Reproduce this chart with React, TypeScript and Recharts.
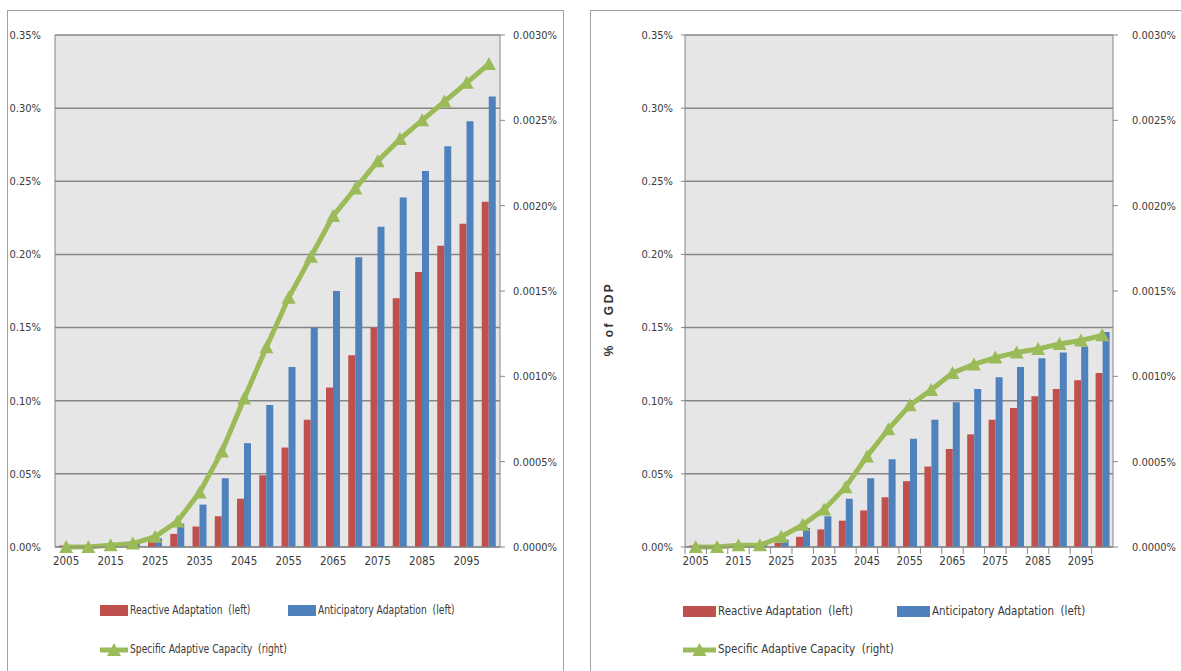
import { ComposedChart, Bar, Line, XAxis, YAxis, CartesianGrid } from "recharts";

const YEARS = [
  2005, 2010, 2015, 2020, 2025, 2030, 2035, 2040, 2045, 2050,
  2055, 2060, 2065, 2070, 2075, 2080, 2085, 2090, 2095, 2100,
];

// left panel, % of GDP
const LEFT_REACTIVE = [
  0.001, 0.001, 0.001, 0.002, 0.004, 0.009, 0.014, 0.021, 0.033, 0.049,
  0.068, 0.087, 0.109, 0.131, 0.15, 0.17, 0.188, 0.206, 0.221, 0.236,
];
const LEFT_ANTICIPATORY = [
  0.001, 0.001, 0.002, 0.003, 0.006, 0.016, 0.029, 0.047, 0.071, 0.097,
  0.123, 0.15, 0.175, 0.198, 0.219, 0.239, 0.257, 0.274, 0.291, 0.308,
];
const LEFT_CAPACITY = [
  0, 0, 0.00001, 0.00002, 0.00006, 0.00015, 0.00032, 0.00056, 0.00087, 0.00117,
  0.00146, 0.0017, 0.00194, 0.0021, 0.00226, 0.00239, 0.0025, 0.00261, 0.00272, 0.00283,
];

// right panel, % of GDP
const RIGHT_REACTIVE = [
  0.001, 0.001, 0.001, 0.002, 0.003, 0.007, 0.012, 0.018, 0.025, 0.034,
  0.045, 0.055, 0.067, 0.077, 0.087, 0.095, 0.103, 0.108, 0.114, 0.119,
];
const RIGHT_ANTICIPATORY = [
  0.001, 0.001, 0.002, 0.003, 0.005, 0.013, 0.021, 0.033, 0.047, 0.06,
  0.074, 0.087, 0.099, 0.108, 0.116, 0.123, 0.129, 0.133, 0.137, 0.147,
];
const RIGHT_CAPACITY = [
  0, 0, 0.00001, 0.00001, 0.00006, 0.00013, 0.00022, 0.00035, 0.00053, 0.00069,
  0.00083, 0.00092, 0.00102, 0.00107, 0.00111, 0.00114, 0.00116, 0.00119, 0.00121, 0.00124,
];

const LEFT_TICKS = [0, 0.05, 0.1, 0.15, 0.2, 0.25, 0.3, 0.35];
const RIGHT_TICKS = [0, 0.0005, 0.001, 0.0015, 0.002, 0.0025, 0.003];

const LEGEND_REACTIVE = "Reactive Adaptation  (left)";
const LEGEND_ANTICIPATORY = "Anticipatory Adaptation  (left)";
const LEGEND_CAPACITY = "Specific Adaptive Capacity  (right)";

const RED = "#c0504d";
const BLUE = "#4f81bd";
const GREEN = "#9bbb59";
const AXIS = "#868686";
const TEXT = "#3a3a3a";
const FONT = '"Liberation Sans Narrow", "DejaVu Sans Condensed", Roboto, sans-serif';

function TriangleDot(props: any) {
  const { cx, cy, index } = props;
  if (cx == null || cy == null) return <g key={index} />;
  return (
    <polygon
      key={index}
      points={`${cx},${cy - 7} ${cx + 7},${cy + 6} ${cx - 7},${cy + 6}`}
      fill={GREEN}
    />
  );
}

// category labels every other year, tick marks on category boundaries
function BoundaryTick(props: any) {
  const { x, y, payload, index } = props;
  const half = payload?.offset ?? 10.7;
  return (
    <g>
      <line x1={x - half} x2={x - half} y1={y - 9} y2={y - 3} stroke={AXIS} />
      {index % 2 === 0 && (
        <text x={x} y={y} dy="0.71em" textAnchor="middle" fill={TEXT} fontSize={11.5} fontFamily={FONT}>
          {payload.value}
        </text>
      )}
    </g>
  );
}

function PlainTick(props: any) {
  const { x, y, payload } = props;
  return (
    <text x={x} y={y} dy="0.71em" textAnchor="middle" fill={TEXT} fontSize={11.5} fontFamily={FONT}>
      {payload.value}
    </text>
  );
}

function GdpLabel(props: any) {
  const vb = props.viewBox;
  const x = vb.x + 19;
  const y = vb.y + vb.height / 2 + 28;
  return (
    <text
      x={x}
      y={y}
      transform={`rotate(-90 ${x} ${y})`}
      textAnchor="middle"
      dominantBaseline="middle"
      fontFamily='"Liberation Sans", Arial, sans-serif'
      fontWeight="bold"
      fontSize={12}
      letterSpacing={2.5}
      fill="#333"
    >
      % of GDP
    </text>
  );
}

interface LegendProps {
  x0: number;
  x1: number;
  swatch: number;
  row1: number;
  row2: number;
  fontSize: number;
  squeeze: number;
}

function PanelLegend({ x0, x1, swatch, row1, row2, fontSize, squeeze }: LegendProps) {
  const text = {
    position: "absolute" as const,
    fontFamily: FONT,
    fontSize,
    color: TEXT,
    whiteSpace: "pre" as const,
    lineHeight: "14px",
    transform: `scaleX(${squeeze})`,
    transformOrigin: "left center",
  };
  return (
    <>
      <div style={{ position: "absolute", left: x0, top: row1 - 6, width: swatch, height: 11, background: RED }} />
      <div style={{ ...text, left: x0 + swatch + 2, top: row1 - 8 }}>{LEGEND_REACTIVE}</div>
      <div style={{ position: "absolute", left: x1, top: row1 - 6, width: swatch, height: 11, background: BLUE }} />
      <div style={{ ...text, left: x1 + swatch + 2, top: row1 - 8 }}>{LEGEND_ANTICIPATORY}</div>
      <svg style={{ position: "absolute", left: x0, top: row2 - 8 }} width={swatch} height={16}>
        <line x1={0} x2={swatch} y1={8} y2={8} stroke={GREEN} strokeWidth={5} />
        <polygon points={`${swatch / 2},1 ${swatch / 2 + 7},14 ${swatch / 2 - 7},14`} fill={GREEN} />
      </svg>
      <div style={{ ...text, left: x0 + swatch + 2, top: row2 - 8 }}>{LEGEND_CAPACITY}</div>
    </>
  );
}

interface PanelProps {
  reactive: number[];
  anticipatory: number[];
  capacity: number[];
  left: number;
  boxWidth: number;
  chartWidth: number;
  leftAxisWidth: number;
  rightAxisWidth: number;
  rightTickMargin: number;
  withGdpLabel: boolean;
  legend: LegendProps;
}

function Panel(p: PanelProps) {
  const data = YEARS.map((year, i) => ({
    year: String(year),
    reactive: p.reactive[i],
    anticipatory: p.anticipatory[i],
    capacity: p.capacity[i],
  }));
  const tickStyle = { fill: TEXT, fontSize: 11, fontFamily: FONT };

  return (
    <div
      style={{
        position: "absolute",
        left: p.left,
        top: 10,
        width: p.boxWidth,
        height: 680,
        border: "1px solid #a0a0a0",
        background: "#fff",
        overflow: "hidden",
      }}
    >
      <ComposedChart
        width={p.chartWidth}
        height={600}
        data={data}
        margin={{ top: 24, right: 0, bottom: 34, left: 0 }}
        barGap={0}
      >
        <CartesianGrid
          yAxisId="left"
          vertical={false}
          fill="#e6e6e6"
          stroke={AXIS}
          strokeWidth={1.5}
        />
        <XAxis
          dataKey="year"
          interval={p.withGdpLabel ? 0 : 1}
          height={30}
          tickSize={5}
          tickMargin={5}
          tickLine={false}
          axisLine={{ stroke: AXIS }}
          tick={p.withGdpLabel ? <BoundaryTick /> : <PlainTick />}
        />
        <YAxis
          yAxisId="left"
          width={p.leftAxisWidth}
          domain={[0, 0.35]}
          ticks={LEFT_TICKS}
          tickFormatter={(v: number) => `${v.toFixed(2)}%`}
          tick={tickStyle}
          tickLine={p.withGdpLabel ? { stroke: AXIS } : false}
          tickSize={p.withGdpLabel ? 4 : 0}
          tickMargin={p.withGdpLabel ? 8 : 14}
          axisLine={{ stroke: AXIS }}
          label={p.withGdpLabel ? <GdpLabel /> : undefined}
        />
        <YAxis
          yAxisId="right"
          orientation="right"
          width={p.rightAxisWidth}
          domain={[0, 0.003]}
          ticks={RIGHT_TICKS}
          tickFormatter={(v: number) => `${v.toFixed(4)}%`}
          tick={tickStyle}
          tickLine={{ stroke: AXIS }}
          tickSize={5}
          tickMargin={p.rightTickMargin}
          axisLine={{ stroke: AXIS }}
        />
        <Bar yAxisId="left" dataKey="reactive" fill={RED} barSize={7} isAnimationActive={false} />
        <Bar yAxisId="left" dataKey="anticipatory" fill={BLUE} barSize={7} isAnimationActive={false} />
        <Line
          yAxisId="right"
          dataKey="capacity"
          type="linear"
          stroke={GREEN}
          strokeWidth={5}
          dot={TriangleDot}
          activeDot={false}
          isAnimationActive={false}
        />
      </ComposedChart>
      <PanelLegend {...p.legend} />
    </div>
  );
}

export default function App() {
  return (
    <div style={{ position: "absolute", left: 0, top: 0, width: 1181, height: 671, background: "#fff", overflow: "hidden" }}>
      <Panel
        reactive={LEFT_REACTIVE}
        anticipatory={LEFT_ANTICIPATORY}
        capacity={LEFT_CAPACITY}
        left={7}
        boxWidth={555}
        chartWidth={555}
        leftAxisWidth={47}
        rightAxisWidth={63}
        rightTickMargin={8}
        withGdpLabel={false}
        legend={{ x0: 92, x1: 280, swatch: 28, row1: 600, row2: 639, fontSize: 12, squeeze: 0.85 }}
      />
      <Panel
        reactive={RIGHT_REACTIVE}
        anticipatory={RIGHT_ANTICIPATORY}
        capacity={RIGHT_CAPACITY}
        left={590}
        boxWidth={600}
        chartWidth={590}
        leftAxisWidth={94}
        rightAxisWidth={68}
        rightTickMargin={14}
        withGdpLabel={true}
        legend={{ x0: 92, x1: 306, swatch: 33, row1: 601, row2: 639, fontSize: 13, squeeze: 0.88 }}
      />
    </div>
  );
}
